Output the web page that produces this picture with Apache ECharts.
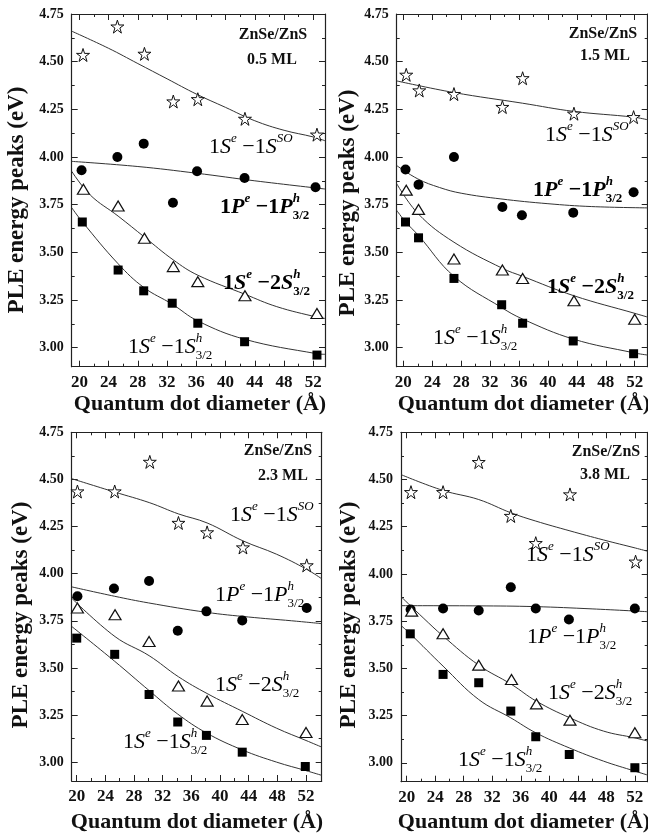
<!DOCTYPE html>
<html>
<head>
<meta charset="utf-8">
<script src="https://cdn.jsdelivr.net/npm/echarts@6/dist/echarts.min.js"></script>
<style>
html, body { margin: 0; padding: 0; background: #fff; }
#chart { width: 648px; height: 836px; }
</style>
</head>
<body>
<div id="chart"></div>
<script>
// tick labels
const xTicks = [20, 24, 28, 32, 36, 40, 44, 48, 52];
const xMinor = [22, 26, 30, 34, 38, 42, 46, 50];
const yTicks = [3.00, 3.25, 3.50, 3.75, 4.00, 4.25, 4.50, 4.75];
const yMinor = [3.125, 3.375, 3.625, 3.875, 4.125, 4.375, 4.625];

// 0.5 ML
const so05 = [[20.5, 4.535], [25.2, 4.684], [28.9, 4.541], [32.85, 4.291], [36.2, 4.303], [42.65, 4.200], [52.5, 4.117]];
const pp05 = [[20.3, 3.930], [25.2, 4.000], [28.8, 4.070], [32.8, 3.760], [36.1, 3.925], [42.6, 3.890], [52.3, 3.841]];
const s2_05 = [[20.55, 3.831], [25.3, 3.743], [28.9, 3.574], [32.85, 3.425], [36.2, 3.346], [42.65, 3.272], [52.5, 3.179]];
const s1_05 = [[20.4, 3.659], [25.3, 3.407], [28.8, 3.298], [32.7, 3.233], [36.2, 3.128], [42.6, 3.031], [52.5, 2.961]];
const so05Fit = [[18.95, 4.66], [24, 4.57], [28, 4.49], [32, 4.41], [36, 4.33], [40, 4.26], [44, 4.19], [48, 4.14], [52, 4.105], [53.6, 4.085]];
const pp05Fit = [[18.95, 3.977], [28, 3.95], [36, 3.915], [44, 3.875], [53.6, 3.832]];
const s2_05Fit = [[18.95, 3.925], [21.5, 3.80], [25.3, 3.69], [28.9, 3.58], [32.85, 3.46], [36.2, 3.38], [42.65, 3.28], [47, 3.215], [52.5, 3.16], [53.6, 3.153]];
const s1_05Fit = [[18.95, 3.734], [20.4, 3.66], [25.3, 3.44], [28.8, 3.316], [32.7, 3.228], [36.2, 3.14], [42.6, 3.044], [52.5, 2.968], [53.6, 2.965]];

// 1.5 ML
const so15 = [[20.4, 4.431], [22.2, 4.349], [27.0, 4.330], [33.7, 4.262], [36.5, 4.413], [43.6, 4.227], [51.85, 4.209]];
const pp15 = [[20.3, 3.934], [22.1, 3.855], [27.0, 4.000], [33.7, 3.738], [36.4, 3.694], [43.5, 3.708], [51.85, 3.815]];
const s2_15 = [[20.4, 3.826], [22.1, 3.725], [27.0, 3.465], [33.7, 3.407], [36.5, 3.363], [43.6, 3.246], [52.0, 3.149]];
const s1_15 = [[20.3, 3.659], [22.1, 3.576], [27.0, 3.363], [33.6, 3.225], [36.5, 3.128], [43.5, 3.035], [51.85, 2.968]];
const so15Fit = [[19.08, 4.399], [27.0, 4.338], [36.5, 4.282], [43.6, 4.239], [51.85, 4.209], [53.8, 4.195]];
const pp15Fit = [[19.08, 3.955], [22, 3.885], [25, 3.84], [28, 3.81], [33.5, 3.78], [40, 3.755], [46, 3.74], [53.8, 3.733]];
const s2_15Fit = [[19.08, 3.86], [22.1, 3.70], [27.0, 3.553], [33.7, 3.416], [36.5, 3.374], [43.6, 3.272], [52.0, 3.18], [53.8, 3.16]];
const s1_15Fit = [[19.08, 3.72], [20.3, 3.66], [22.1, 3.588], [27.0, 3.374], [33.6, 3.21], [36.5, 3.15], [43.5, 3.045], [51.85, 2.973], [53.8, 2.961]];

// 2.3 ML
const so23 = [[20.1, 4.436], [25.3, 4.436], [30.2, 4.593], [34.2, 4.269], [38.2, 4.219], [43.2, 4.139], [52.1, 4.044]];
const pp23 = [[20.1, 3.880], [25.2, 3.921], [30.1, 3.961], [34.1, 3.697], [38.1, 3.800], [43.1, 3.752], [52.1, 3.818]];
const s2_23 = [[20.1, 3.818], [25.35, 3.782], [30.1, 3.640], [34.2, 3.404], [38.2, 3.324], [43.1, 3.226], [52.0, 3.157]];
const s1_23 = [[20.0, 3.658], [25.3, 3.572], [30.1, 3.359], [34.1, 3.213], [38.1, 3.142], [43.1, 3.053], [51.9, 2.977]];
const so23Fit = [[19.3, 4.504], [25.3, 4.433], [30.2, 4.376], [34.2, 4.317], [38.2, 4.269], [43.2, 4.174], [47.9, 4.103], [52.1, 4.023], [54.19, 3.973]];
const pp23Fit = [[19.3, 3.93], [25.3, 3.88], [30, 3.845], [38.1, 3.795], [44, 3.77], [50, 3.75], [54.19, 3.735]];
const s2_23Fit = [[19.3, 3.87], [25.35, 3.666], [30.1, 3.565], [34.2, 3.453], [38.2, 3.364], [43.1, 3.27], [47.9, 3.18], [52.0, 3.115], [54.19, 3.08]];
const s1_23Fit = [[19.3, 3.72], [25.3, 3.535], [30.1, 3.38], [34.1, 3.255], [38.1, 3.155], [43.1, 3.065], [47.9, 3.0], [52.0, 2.955], [54.19, 2.93]];

// 3.8 ML
const so38 = [[20.6, 4.433], [25.1, 4.433], [30.1, 4.592], [34.6, 4.307], [38.1, 4.163], [42.9, 4.421], [52.1, 4.065]];
const pp38 = [[20.55, 3.812], [25.1, 3.817], [30.1, 3.806], [34.6, 3.930], [38.1, 3.817], [42.75, 3.759], [52.0, 3.817]];
const s2_38 = [[20.7, 3.803], [25.1, 3.683], [30.1, 3.517], [34.7, 3.441], [38.2, 3.312], [42.9, 3.226], [52.0, 3.159]];
const s1_38 = [[20.5, 3.683], [25.1, 3.468], [30.1, 3.424], [34.6, 3.274], [38.1, 3.138], [42.8, 3.044], [52.0, 2.974]];
const so38Fit = [[19.2, 4.526], [25.1, 4.442], [30.1, 4.394], [34.6, 4.324], [38.1, 4.28], [42.9, 4.228], [47.6, 4.18], [52.1, 4.137], [53.8, 4.12]];
const pp38Fit = [[19.2, 3.832], [30, 3.831], [38, 3.827], [46, 3.815], [53.8, 3.80]];
const s2_38Fit = [[19.2, 3.88], [22.3, 3.768], [25.1, 3.671], [30.1, 3.517], [34.7, 3.415], [38.2, 3.326], [42.9, 3.238], [47.6, 3.168], [52.0, 3.132], [53.8, 3.115]];
const s1_38Fit = [[19.2, 3.727], [20.5, 3.683], [25.1, 3.512], [30.1, 3.335], [34.6, 3.238], [38.1, 3.159], [42.8, 3.079], [47.6, 3.009], [52.0, 2.956], [53.8, 2.935]];

const shellLabels = ['0.5 ML', '1.5 ML', '2.3 ML', '3.8 ML'];
const xTitle = 'Quantum dot diameter (Å)';
const yTitle = 'PLE energy peaks (eV)';

const serif = 'Liberation Serif';
const ink = '#111';
const starPath = 'path://M50,2 L61,36 L97,36 L68,57 L79,92 L50,70 L21,92 L32,57 L3,36 L39,36 Z';

// panel frames (px) and axis ranges
const panels = [
  { left: 71.7, top: 14, width: 253.3, height: 352.7, xr: [18.95, 53.6], data: [so05, pp05, s2_05, s1_05], fits: [so05Fit, pp05Fit, s2_05Fit, s1_05Fit] },
  { left: 396.7, top: 14, width: 251, height: 352.7, xr: [19.08, 53.8], data: [so15, pp15, s2_15, s1_15], fits: [so15Fit, pp15Fit, s2_15Fit, s1_15Fit] },
  { left: 71.7, top: 432.3, width: 250, height: 348.7, xr: [19.3, 54.19], data: [so23, pp23, s2_23, s1_23], fits: [so23Fit, pp23Fit, s2_23Fit, s1_23Fit] },
  { left: 401, top: 432.3, width: 246.7, height: 349.4, xr: [19.2, 53.8], data: [so38, pp38, s2_38, s1_38], fits: [so38Fit, pp38Fit, s2_38Fit, s1_38Fit] }
];

const grids = [], xAxes = [], yAxes = [], series = [];
const lineSty = { color: '#222', width: 1.2 };

function xAx(gi, p, pos, ticks, len, labels, line) {
  return {
    type: 'value', gridIndex: gi, position: pos, min: p.xr[0], max: p.xr[1],
    axisLine: { show: line, lineStyle: lineSty },
    axisTick: { show: true, inside: true, length: len, customValues: ticks, lineStyle: { color: '#222', width: 1 } },
    axisLabel: labels ? { show: true, customValues: xTicks, margin: 7, fontFamily: serif, fontWeight: 'bold', fontSize: 17, color: ink } : { show: false },
    splitLine: { show: false }
  };
}
function yAx(gi, pos, ticks, len, labels, line) {
  return {
    type: 'value', gridIndex: gi, position: pos, min: 2.9, max: 4.75,
    axisLine: { show: line, lineStyle: lineSty },
    axisTick: { show: true, inside: true, length: len, customValues: ticks, lineStyle: { color: '#222', width: 1 } },
    axisLabel: labels ? { show: true, customValues: yTicks, margin: 8, fontFamily: serif, fontWeight: 'bold', fontSize: 14, color: ink, formatter: v => v.toFixed(2) } : { show: false },
    splitLine: { show: false }
  };
}

panels.forEach((p, i) => {
  grids.push({ left: p.left, top: p.top, width: p.width, height: p.height, containLabel: false });
  xAxes.push(xAx(i, p, 'bottom', xTicks, 6, true, true), xAx(i, p, 'top', xTicks, 6, false, true));
  yAxes.push(yAx(i, 'left', yTicks, 6, true, true), yAx(i, 'right', yTicks, 6, false, true));
});
// overlay grids carrying the short minor ticks
panels.forEach((p, i) => {
  grids.push({ left: p.left, top: p.top, width: p.width, height: p.height, containLabel: false });
  xAxes.push(xAx(4 + i, p, 'bottom', xMinor, 3, false, false), xAx(4 + i, p, 'top', xMinor, 3, false, false));
  yAxes.push(yAx(4 + i, 'left', yMinor, 3, false, false), yAx(4 + i, 'right', yMinor, 3, false, false));
});

const markers = [
  { symbol: starPath, symbolSize: 13, itemStyle: { color: '#fff', borderColor: ink, borderWidth: 1, opacity: 1 } },
  { symbol: 'circle', symbolSize: 10, itemStyle: { color: '#000', opacity: 1 } },
  { symbol: 'triangle', symbolSize: [12, 10], itemStyle: { color: '#fff', borderColor: ink, borderWidth: 1.2, opacity: 1 } },
  { symbol: 'rect', symbolSize: 9, itemStyle: { color: '#000', opacity: 1 } }
];

panels.forEach((p, i) => {
  p.fits.forEach(f => {
    series.push({
      type: 'line', xAxisIndex: 2 * i, yAxisIndex: 2 * i, data: f,
      showSymbol: false, symbol: 'none', smooth: 0.4,
      lineStyle: { color: '#333', width: 1 }, z: 2, silent: true
    });
  });
  p.data.forEach((d, k) => {
    series.push(Object.assign({
      type: 'scatter', xAxisIndex: 2 * i, yAxisIndex: 2 * i, data: d, z: 3, silent: true
    }, markers[k]));
  });
});

function rich(bold) {
  const w = bold ? 'bold' : 'normal';
  const base = { fontFamily: serif, fontWeight: w, color: ink };
  return {
    d: Object.assign({ fontSize: 22, lineHeight: 30 }, base),
    v: Object.assign({ fontSize: 22, lineHeight: 30, fontStyle: 'italic' }, base),
    sup: Object.assign({ fontSize: 13, lineHeight: 13, fontStyle: 'italic', verticalAlign: 'top' }, base),
    hs: Object.assign({ fontSize: 13, lineHeight: 13, fontStyle: 'italic', verticalAlign: 'top', width: 0 }, base),
    sub: Object.assign({ fontSize: 13, lineHeight: 13, verticalAlign: 'bottom' }, base)
  };
}
const tSO = '{d|1}{v|S}{sup|e}{d| −1}{v|S}{sup|SO}';
const t1P = '{d|1}{v|P}{sup|e}{d| −1}{v|P}{hs|h}{sub|3/2}';
const t2S = '{d|1}{v|S}{sup|e}{d| −2}{v|S}{hs|h}{sub|3/2}';
const t1S = '{d|1}{v|S}{sup|e}{d| −1}{v|S}{hs|h}{sub|3/2}';

function trans(x, y, text, bold) {
  return { type: 'text', x: x, y: y, z: 10, style: { text: text, rich: rich(bold), align: 'left', verticalAlign: 'middle' } };
}
function plain(x, y, text, size, rot) {
  return {
    type: 'text', x: x, y: y, rotation: rot || 0, z: 10,
    style: { text: text, fontFamily: serif, fontWeight: 'bold', fontSize: size, fill: ink, align: 'center', verticalAlign: 'middle' }
  };
}

const graphic = [
  plain(273, 35, 'ZnSe/ZnS', 16), plain(272, 60, shellLabels[0], 16),
  plain(603, 34, 'ZnSe/ZnS', 16), plain(605, 56, shellLabels[1], 16),
  plain(278, 451, 'ZnSe/ZnS', 16), plain(283, 476, shellLabels[2], 16),
  plain(606, 452, 'ZnSe/ZnS', 16), plain(605, 475, shellLabels[3], 16),

  trans(209, 147, tSO, false), trans(220, 207, t1P, true), trans(223, 283, t2S, true), trans(128, 347, t1S, false),
  trans(545, 135, tSO, false), trans(533, 190, t1P, true), trans(547, 287, t2S, true), trans(433, 338, t1S, false),
  trans(230, 515, tSO, false), trans(215, 595, t1P, false), trans(215, 685, t2S, false), trans(123, 742, t1S, false),
  trans(526, 555, tSO, false), trans(527, 637, t1P, false), trans(548, 693, t2S, false), trans(458, 760, t1S, false),

  plain(200, 404, xTitle, 22), plain(524, 404, xTitle, 22),
  plain(197, 822, xTitle, 22), plain(524, 822, xTitle, 22),
  plain(17, 200, yTitle, 23, Math.PI / 2), plain(348, 203, yTitle, 23, Math.PI / 2),
  plain(21, 615, yTitle, 23, Math.PI / 2), plain(349, 615, yTitle, 23, Math.PI / 2)
];

const chart = echarts.init(document.getElementById('chart'));
chart.setOption({
  backgroundColor: '#fff',
  animation: false,
  grid: grids,
  xAxis: xAxes,
  yAxis: yAxes,
  series: series,
  graphic: graphic
});
</script>
</body>
</html>
